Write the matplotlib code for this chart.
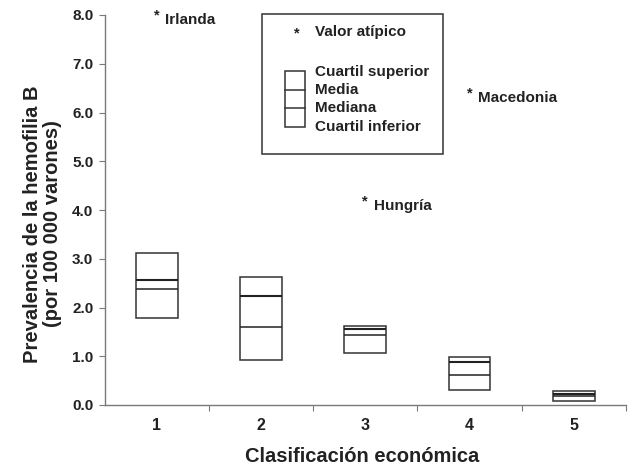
import matplotlib
matplotlib.use("Agg")
import matplotlib.pyplot as plt
from matplotlib.patches import Rectangle

plt.rcParams['font.family'] = ['Liberation Sans', 'DejaVu Sans']
plt.rcParams['font.weight'] = 'bold'

categories = [1, 2, 3, 4, 5]
cuartil_superior = [3.12, 2.62, 1.63, 0.99, 0.28]
media = [2.57, 2.24, 1.55, 0.88, 0.23]
mediana = [2.37, 1.59, 1.43, 0.61, 0.18]
cuartil_inferior = [1.78, 0.93, 1.06, 0.31, 0.08]

outlier_cat = [1, 4, 3]
outlier_val = [8.0, 6.4, 4.18]
outlier_names = ["Irlanda", "Macedonia", "Hungría"]

yticks = [0, 1, 2, 3, 4, 5, 6, 7, 8]

fig = plt.figure(figsize=(6.3, 4.68), dpi=100)
ax = fig.add_axes([104.5/630, 1-405/468, 521.5/630, 390/468])
ax.set_xlim(0.5, 5.5)
ax.set_ylim(0, 8)

axis_col = '#7a7a7a'
text_col = '#222222'
box_w = 0.4
for c, q3, m, md, q1 in zip(categories, cuartil_superior, media, mediana, cuartil_inferior):
    ax.add_patch(Rectangle((c - box_w/2, q1), box_w, q3 - q1, fill=False,
                           edgecolor='#333333', linewidth=1.1))
    ax.hlines(m, c - box_w/2, c + box_w/2, color='#222222', linewidth=1.5)
    ax.hlines(md, c - box_w/2, c + box_w/2, color='#222222', linewidth=1.1)

for c, v, name in zip(outlier_cat, outlier_val, outlier_names):
    ax.text(c, v, "*", ha='center', va='center', fontsize=10.5, color=text_col)
    ax.annotate(name, xy=(c, v), xytext=(6, -3.5), textcoords='offset points',
                ha='left', va='center', fontsize=11, fontweight='bold', color=text_col)

for s in ['top', 'right']:
    ax.spines[s].set_visible(False)
for s in ['left', 'bottom']:
    ax.spines[s].set_color(axis_col)
    ax.spines[s].set_linewidth(1.0)

ax.set_yticks(yticks)
ax.set_yticklabels([f"{v:.1f}" for v in yticks], fontsize=11, fontweight='bold', color=text_col)
ax.tick_params(axis='y', direction='out', length=4, color=axis_col, pad=4)

ax.set_xticks([1.5, 2.5, 3.5, 4.5, 5.5])
ax.set_xticklabels([])
ax.tick_params(axis='x', which='major', direction='out', length=4, color=axis_col)
ax.set_xticks(categories, minor=True)
ax.set_xticklabels([str(c) for c in categories], minor=True, fontsize=11.5,
                   fontweight='bold', color=text_col)
ax.tick_params(axis='x', which='minor', length=0, pad=9)

ax.set_ylabel("Prevalencia de la hemofilia B\n(por 100 000 varones)", fontsize=14.5,
              fontweight='bold', color=text_col, linespacing=1.05)
ax.yaxis.set_label_coords(-0.082, 0.464)
ax.set_xlabel("Clasificación económica", fontsize=14.5, fontweight='bold', color=text_col)
ax.xaxis.set_label_coords(0.494, -0.108)

# Legend box (figure pixel coordinates converted to fractions)
def fx(px):
    return px / 630
def fy(py):
    return 1 - py / 468

fig.patches.append(Rectangle((fx(262), fy(154)), fx(443) - fx(262), fy(14) - fy(154),
                             transform=fig.transFigure, fill=False,
                             edgecolor='#333333', linewidth=1.1))
fig.text(fx(297), fy(33), "*", ha='center', va='center', fontsize=10.5, color=text_col)
fig.text(fx(315), fy(32), "Valor atípico", ha='left', va='center', fontsize=11,
         fontweight='bold', color=text_col)
fig.patches.append(Rectangle((fx(285), fy(127)), fx(305) - fx(285), fy(71) - fy(127),
                             transform=fig.transFigure, fill=False,
                             edgecolor='#333333', linewidth=1.1))
for yy in [90, 108]:
    fig.lines.append(plt.Line2D([fx(285), fx(305)], [fy(yy), fy(yy)],
                                transform=fig.transFigure, color='#333333', linewidth=1.1))
for yy, lab in zip([72, 90, 108, 127], ["Cuartil superior", "Media", "Mediana", "Cuartil inferior"]):
    fig.text(fx(315), fy(yy), lab, ha='left', va='center', fontsize=11,
             fontweight='bold', color=text_col)

fig.savefig("out.png", dpi=100)
